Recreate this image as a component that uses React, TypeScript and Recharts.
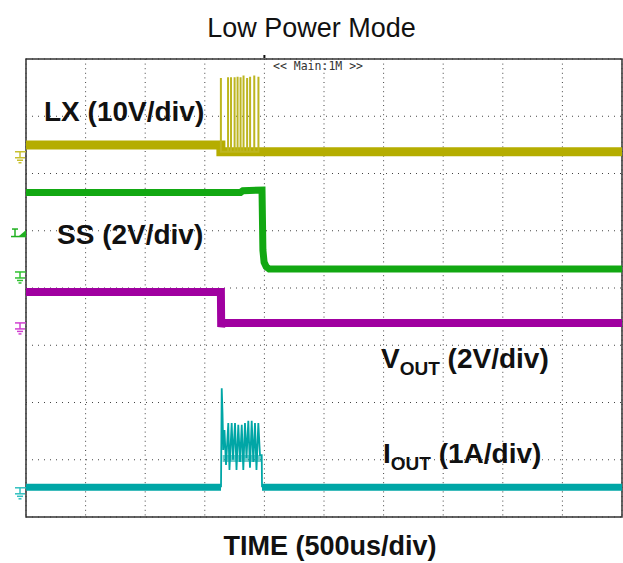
import React from 'react'
import { LineChart, Line, XAxis, YAxis, CartesianGrid, ReferenceArea, ReferenceDot } from 'recharts'

// scope screen: time in divisions (500us/div), levels in divisions from the bottom edge
const xTicks = [0, 1, 2, 3, 4, 5, 6, 7, 8, 9, 10]
const yTicks = [0, 1, 2, 3, 4, 5, 6, 7, 8]

const lxTimes = [0, 3.27, 3.27, 10]
const lxLevels = [6.5, 6.5, 6.38, 6.38]
const lxPulseTimes = [3.27, 3.39, 3.44, 3.5, 3.55, 3.6, 3.65, 3.71, 3.76, 3.83, 3.9]
const lxPulseTops = [7.67, 7.68, 7.68, 7.68, 7.69, 7.68, 7.71, 7.67, 7.69, 7.71, 7.69]
const lxPulseBase = 6.38

const ssTimes = [0, 3.6, 3.64, 3.96, 3.975, 3.995, 4.03, 4.08, 10]
const ssLevels = [5.67, 5.67, 5.7, 5.71, 4.66, 4.45, 4.37, 4.33, 4.33]

const voutTimes = [0, 3.27, 3.275, 3.29, 10]
const voutLevels = [3.93, 3.93, 3.32, 3.39, 3.39]

const ioutTimes = [0, 3.272, 3.273, 3.96, 10]
const ioutLevels = [0.52, 0.52, null, 0.52, 0.52]
const ioutPulseTimes = [3.272, 3.284, 3.297, 3.31, 3.33, 3.356, 3.394, 3.414, 3.451, 3.473, 3.507, 3.532, 3.562, 3.591, 3.62, 3.646, 3.674, 3.7, 3.73, 3.758, 3.787, 3.814, 3.842, 3.867, 3.898, 3.926, 3.955, 3.96]
const ioutPulseLevels = [0.52, 2.25, 1.82, 1.17, 1.52, 0.91, 1.64, 0.82, 1.64, 1.0, 1.64, 0.82, 1.61, 0.96, 1.61, 0.82, 1.64, 1.03, 1.68, 0.86, 1.68, 0.96, 1.64, 0.82, 1.64, 1.08, 1.08, 0.52]
const ioutBandTimes = [3.3, 3.95]
const ioutBandLevels = [1.02, 1.02]

// channel ground reference levels (left edge markers)
const grounds = [
  { level: 6.38, color: '#c8c030' },
  { level: 4.28, color: '#30c030' },
  { level: 3.39, color: '#d040d0' },
  { level: 0.51, color: '#30c0c0' },
]
const triggerLevel = 4.96
const triggerTime = 4

const zip = (ts: number[], vs: (number | null)[]) => ts.map((t, i) => ({ t, v: vs[i] }))

const lxData = zip(lxTimes, lxLevels)
const lxPulseData = lxPulseTimes.flatMap((t, i) => [
  { t, v: lxPulseBase },
  { t, v: lxPulseTops[i] },
  { t, v: lxPulseBase },
])
const ssData = zip(ssTimes, ssLevels)
const voutData = zip(voutTimes, voutLevels)
const ioutData = zip(ioutTimes, ioutLevels)
const ioutPulseData = zip(ioutPulseTimes, ioutPulseLevels)
const ioutBandData = zip(ioutBandTimes, ioutBandLevels)

const GroundMark = ({ cx, cy, color }: any) => (
  <g stroke={color} strokeWidth={1.5} fill="none">
    <line x1={cx - 11} x2={cx} y1={cy} y2={cy} />
    <line x1={cx - 6} x2={cx - 6} y1={cy} y2={cy + 6} />
    <line x1={cx - 11} x2={cx - 1} y1={cy + 6} y2={cy + 6} />
    <line x1={cx - 9} x2={cx - 3} y1={cy + 8.5} y2={cy + 8.5} />
    <line x1={cx - 7.5} x2={cx - 4.5} y1={cy + 11} y2={cy + 11} />
  </g>
)

const TriggerMark = ({ cx, cy }: any) => (
  <g stroke="#20b020" strokeWidth={1.5} fill="#20b020">
    <line x1={cx - 14} x2={cx - 8} y1={cy - 4} y2={cy - 4} />
    <line x1={cx - 11} x2={cx - 11} y1={cy - 4} y2={cy + 3} />
    <line x1={cx - 15} x2={cx} y1={cy + 3.5} y2={cy + 3.5} />
    <polygon points={`${cx - 7},${cy + 3} ${cx},${cy + 3} ${cx},${cy - 3}`} stroke="none" />
  </g>
)

const TopTick = ({ cx, cy }: any) => <rect x={cx - 1} y={cy - 4} width={2} height={3} fill="#111" />

export default function App() {
  const font = 'Arial, "Liberation Sans", sans-serif'
  return (
    <div style={{ position: 'absolute', left: 0, top: 0, width: 623, height: 563, background: '#fff' }}>
      <LineChart width={623} height={563} margin={{ top: 59, right: 1, bottom: 46, left: 26 }}>
        <XAxis type="number" dataKey="t" domain={[0, 10]} ticks={xTicks} hide allowDuplicatedCategory={false} />
        <YAxis type="number" domain={[0, 8]} ticks={yTicks} hide />
        <CartesianGrid horizontal={false} stroke="#444" strokeDasharray="1 3.6" />
        <CartesianGrid vertical={false} stroke="#444" strokeDasharray="1 5" />
        <ReferenceArea x1={0} x2={10} y1={0} y2={8} fill="none" stroke="#333" strokeWidth={1.5} ifOverflow="visible" />

        <Line data={lxData} dataKey="v" type="linear" stroke="#b5ad00" strokeWidth={9} dot={false} isAnimationActive={false} />
        <Line data={lxPulseData} dataKey="v" type="linear" stroke="#bdb620" strokeWidth={2} dot={false} isAnimationActive={false} />
        <Line data={ssData} dataKey="v" type="linear" stroke="#12a812" strokeWidth={7} dot={false} isAnimationActive={false} />
        <Line data={voutData} dataKey="v" type="linear" stroke="#a000a0" strokeWidth={8} dot={false} isAnimationActive={false} />
        <Line data={ioutData} dataKey="v" type="linear" stroke="#00a6a6" strokeWidth={7} dot={false} connectNulls={false} isAnimationActive={false} />
        <Line data={ioutBandData} dataKey="v" type="linear" stroke="#10a8a8" strokeOpacity={0.6} strokeWidth={7} dot={false} isAnimationActive={false} />
        <Line data={ioutPulseData} dataKey="v" type="linear" stroke="#00a6a6" strokeWidth={1.8} dot={false} isAnimationActive={false} />

        {grounds.map((g, i) => (
          <ReferenceDot key={i} x={0} y={g.level} ifOverflow="visible" shape={(p: any) => <GroundMark {...p} color={g.color} />} />
        ))}
        <ReferenceDot x={0} y={triggerLevel} ifOverflow="visible" shape={(p: any) => <TriggerMark {...p} />} />
        <ReferenceDot x={triggerTime} y={8} ifOverflow="visible" shape={(p: any) => <TopTick {...p} />} />
      </LineChart>

      <svg width={623} height={563} style={{ position: 'absolute', left: 0, top: 0, pointerEvents: 'none' }}>
        <text x={311.5} y={37} textAnchor="middle" fontFamily={font} fontSize={27} fill="#111">Low Power Mode</text>
        <text x={273} y={70} fontFamily='"DejaVu Sans Mono", monospace' fontSize={11.5} fill="#333">{'<< Main:1M >>'}</text>
        <text x={44} y={121} fontFamily={font} fontSize={28} fontWeight="bold" fill="#111">LX (10V/div)</text>
        <text x={57} y={244} fontFamily={font} fontSize={28} fontWeight="bold" fill="#111">SS (2V/div)</text>
        <text x={381} y={368} fontFamily={font} fontSize={28} fontWeight="bold" fill="#111">
          V<tspan fontSize={19} dy={7}>OUT</tspan><tspan dy={-7}> (2V/div)</tspan>
        </text>
        <text x={383} y={463} fontFamily={font} fontSize={28} fontWeight="bold" fill="#111">
          I<tspan fontSize={19} dy={7}>OUT</tspan><tspan dy={-7}> (1A/div)</tspan>
        </text>
        <text x={330} y={555} textAnchor="middle" fontFamily={font} fontSize={27} fontWeight="bold" fill="#111">TIME (500us/div)</text>
      </svg>
    </div>
  )
}
